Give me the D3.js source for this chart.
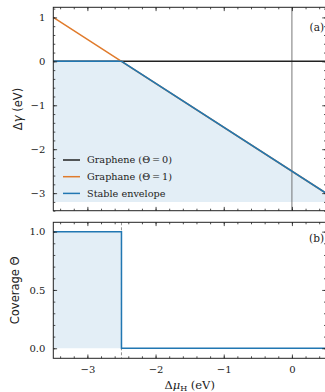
<!DOCTYPE html>
<html>
<head>
<meta charset="utf-8">
<script src="https://cdn.jsdelivr.net/npm/d3@7"></script>
<style>
  body { margin: 0; background: #fff; }
  svg text { font-family: "DejaVu Serif", serif; fill: #222; }
</style>
</head>
<body>
<div id="chart"></div>
<script>
// chemical potential points (eV)
const muH = [-3.5, -2.5, 0.5];
const graphene = [0, 0, 0];
const graphane = [1, 0, -3];
const envelope = [0, 0, -3];

// coverage step
const muStep = [-3.5, -2.5, -2.5, 0.5];
const coverage = [1, 1, 0, 0];

const xTicks = [-3, -2, -1, 0];
const yTicksA = [-3, -2, -1, 0, 1];
const yTicksB = [0, 0.5, 1.0];
const legendLabels = ["Graphene (\u0398\u2009=\u20090)", "Graphane (\u0398\u2009=\u20091)", "Stable envelope"];

const blue = "#2177b2", orange = "#e07b2c", dark = "#222", fillBlue = "#e3eef6";

const W = 325, H = 392;
const left = 53.3, right = 326;
const topA = 7.3, botA = 210.7, topB = 222.3, botB = 358.3;

const svg = d3.select("#chart").append("svg").attr("width", W).attr("height", H);

const x = d3.scaleLinear().domain([-3.5, 0.5]).range([left, right]);
const yA = d3.scaleLinear().domain([-3.4, 1.23]).range([botA, topA]);
const yB = d3.scaleLinear().domain([-0.086, 1.08]).range([botB, topB]);

const rangeTicks = (a, b, step) => d3.range(Math.ceil(a / step), Math.floor(b / step) + 1).map(k => +(k * step).toFixed(4));

// ---- panel (a)
const gA = svg.append("g");
const ptsA = muH.map((m, i) => ({ x: m, y: envelope[i] }));
gA.append("path")
  .datum(ptsA)
  .attr("fill", fillBlue)
  .attr("d", d3.area().x(d => x(d.x)).y0(yA(-3.2)).y1(d => yA(d.y)));

gA.append("line")
  .attr("x1", x(0)).attr("x2", x(0)).attr("y1", topA).attr("y2", botA)
  .attr("stroke", "#555").attr("stroke-width", 0.8);

const line = (yy) => d3.line().x(d => x(d.x)).y(d => yy(d.y));
const series = [graphene, graphane, envelope];
const colors = [dark, orange, blue];
series.forEach((s, k) => {
  gA.append("path")
    .datum(muH.map((m, i) => ({ x: m, y: s[i] })))
    .attr("fill", "none").attr("stroke", colors[k]).attr("stroke-width", 1.5)
    .attr("d", line(yA));
});

// legend
legendLabels.forEach((t, i) => {
  const ly = 160 + i * 16.7;
  svg.append("line").attr("x1", 63).attr("x2", 80).attr("y1", ly).attr("y2", ly)
    .attr("stroke", colors[i]).attr("stroke-width", 1.5);
  svg.append("text").attr("x", 87).attr("y", ly + 3.4).attr("font-size", 9.7).text(t);
});

// ---- panel (b)
const gB = svg.append("g");
gB.append("path")
  .datum(muStep.map((m, i) => ({ x: m, y: coverage[i] })))
  .attr("fill", fillBlue)
  .attr("d", d3.area().x(d => x(d.x)).y0(yB(0)).y1(d => yB(d.y)));
gB.append("line")
  .attr("x1", x(-2.5)).attr("x2", x(-2.5)).attr("y1", topB).attr("y2", botB)
  .attr("stroke", "#777").attr("stroke-width", 0.8).attr("stroke-dasharray", "3,2");
gB.append("path")
  .datum(muStep.map((m, i) => ({ x: m, y: coverage[i] })))
  .attr("fill", "none").attr("stroke", blue).attr("stroke-width", 1.5)
  .attr("d", line(yB));

// ---- axes with inward ticks on all sides
function frame(yScale, top, bot, yMajor, yMinorStep, yFmt, xLabels) {
  const g = svg.append("g");
  const [y0, y1] = yScale.domain();
  const xMinor = rangeTicks(-3.5, 0.5, 0.2);
  const yMinor = rangeTicks(y0, y1, yMinorStep);
  const addAxis = (axis, tr) => {
    const a = g.append("g").attr("transform", tr).call(axis);
    a.select(".domain").remove();
    a.selectAll("line").attr("stroke", dark).attr("stroke-width", 0.8);
    a.selectAll("text").attr("font-size", 10).attr("fill", dark);
    return a;
  };
  // minor
  addAxis(d3.axisBottom(x).tickValues(xMinor).tickSize(-2).tickFormat(""), `translate(0,${bot})`);
  addAxis(d3.axisTop(x).tickValues(xMinor).tickSize(-2).tickFormat(""), `translate(0,${top})`);
  addAxis(d3.axisLeft(yScale).tickValues(yMinor).tickSize(-2).tickFormat(""), `translate(${left},0)`);
  addAxis(d3.axisRight(yScale).tickValues(yMinor).tickSize(-2).tickFormat(""), `translate(${right},0)`);
  // major
  addAxis(d3.axisBottom(x).tickValues(xTicks).tickSize(-3.8).tickPadding(8)
    .tickFormat(xLabels ? (d => d3.format("d")(d).replace("-", "\u2212")) : ""), `translate(0,${bot})`);
  addAxis(d3.axisTop(x).tickValues(xTicks).tickSize(-3.8).tickFormat(""), `translate(0,${top})`);
  addAxis(d3.axisLeft(yScale).tickValues(yMajor).tickSize(-3.8).tickPadding(8)
    .tickFormat(d => yFmt(d).replace("-", "\u2212")), `translate(${left},0)`);
  addAxis(d3.axisRight(yScale).tickValues(yMajor).tickSize(-3.8).tickFormat(""), `translate(${right},0)`);
  g.append("rect").attr("x", left).attr("y", top).attr("width", right - left).attr("height", bot - top)
    .attr("fill", "none").attr("stroke", dark).attr("stroke-width", 1);
}
frame(yA, topA, botA, yTicksA, 0.2, d3.format("d"), false);
frame(yB, topB, botB, yTicksB, 0.1, d3.format(".1f"), true);

// labels
svg.append("text").attr("x", 324).attr("y", 31).attr("text-anchor", "end").attr("font-size", 10.5).text("(a)");
svg.append("text").attr("x", 324).attr("y", 242).attr("text-anchor", "end").attr("font-size", 10.5).text("(b)");

const ya = svg.append("text").attr("transform", `translate(22,${(topA + botA) / 2}) rotate(-90)`)
  .attr("text-anchor", "middle").attr("font-size", 11.5).style("font-family", "DejaVu Sans");
ya.append("tspan").text("\u0394");
ya.append("tspan").attr("font-style", "italic").text("\u03b3");
ya.append("tspan").text(" (eV)");

svg.append("text").attr("transform", `translate(19,${(topB + botB) / 2}) rotate(-90)`)
  .attr("text-anchor", "middle").attr("font-size", 11.5).style("font-family", "DejaVu Sans").text("Coverage \u0398");

const xl = svg.append("text").attr("x", (left + right) / 2).attr("y", 389).attr("text-anchor", "middle").attr("font-size", 11.5);
xl.append("tspan").text("\u0394");
xl.append("tspan").attr("font-style", "italic").text("\u03bc");
xl.append("tspan").attr("font-size", 8).attr("dy", 2).text("H");
xl.append("tspan").attr("dy", -2).text(" (eV)");
</script>
</body>
</html>
